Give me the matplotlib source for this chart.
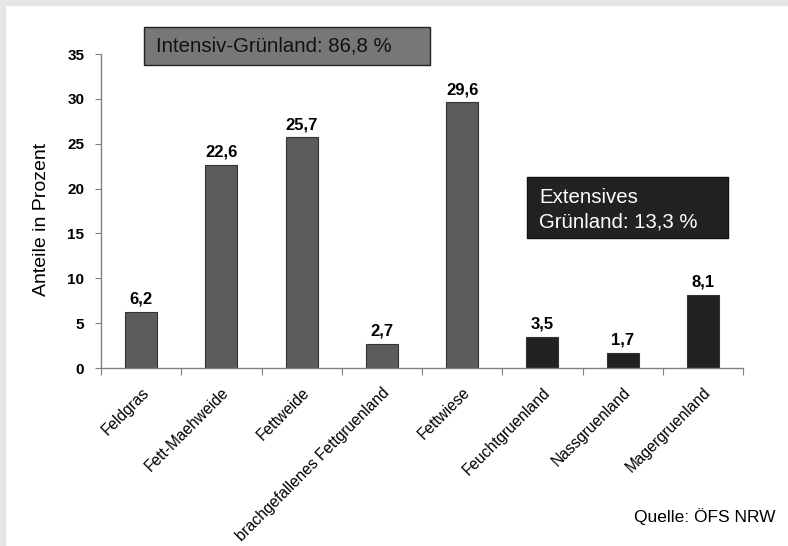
import matplotlib
matplotlib.use("Agg")
import matplotlib.pyplot as plt
from matplotlib.patches import Rectangle
from matplotlib import font_manager

plt.rcParams['font.family'] = ['Liberation Sans', 'DejaVu Sans']

names = {f.name for f in font_manager.fontManager.ttflist}
narrow = ['Liberation Sans Narrow', 'Liberation Sans'] if 'Liberation Sans Narrow' in names else ['Liberation Sans']

categories = ["Feldgras", "Fett-Maehweide", "Fettweide", "brachgefallenes Fettgruenland",
              "Fettwiese", "Feuchtgruenland", "Nassgruenland", "Magergruenland"]
values = [6.2, 22.6, 25.7, 2.7, 29.6, 3.5, 1.7, 8.1]
groups = ["int", "int", "int", "int", "int", "ext", "ext", "ext"]
y_ticks = [0, 5, 10, 15, 20, 25, 30, 35]

colors = {"int": "#5c5c5c", "ext": "#222222"}

fig = plt.figure(figsize=(7.88, 5.46), dpi=100)
fig.patch.set_facecolor("white")
# light grey frame along top and left edges
fig.patches.append(Rectangle((0, 1 - 5 / 546), 1, 5 / 546, transform=fig.transFigure,
                             color="#e6e6e6", zorder=0))
fig.patches.append(Rectangle((0, 0), 5 / 788, 1, transform=fig.transFigure,
                             color="#e6e6e6", zorder=0))

ax = fig.add_axes([101 / 788, 1 - 368 / 546, (743 - 101) / 788, (368 - 54) / 546])
x = list(range(len(categories)))
ax.bar(x, values, width=0.4, color=[colors[g] for g in groups],
       edgecolor="#333333", linewidth=0.8, zorder=2)
for xi, v in zip(x, values):
    ax.text(xi, v + 0.6, f"{v:.1f}".replace(".", ","), ha="center", va="bottom",
            fontsize=12, fontweight="bold", family=narrow)

ax.set_xlim(-0.5, len(categories) - 0.5)
ax.set_ylim(0, 35)
ax.set_yticks(y_ticks)
ax.set_yticklabels([str(t) for t in y_ticks], fontsize=11, fontweight="bold", family=narrow)
ax.set_xticks([i - 0.5 for i in range(len(categories) + 1)], minor=False)
ax.set_xticklabels([])
ax.set_xticks(x, minor=True)
ax.set_xticklabels(categories, minor=True, rotation=45, ha="right",
                   rotation_mode="anchor", fontsize=11.2)
ax.tick_params(axis="x", which="minor", length=0, pad=12)
ax.tick_params(axis="x", which="major", direction="out", length=5, color="#808080")
ax.tick_params(axis="y", direction="out", length=4, color="#808080", pad=8)
for s in ("top", "right"):
    ax.spines[s].set_visible(False)
for s in ("left", "bottom"):
    ax.spines[s].set_color("#808080")
    ax.spines[s].set_linewidth(1.0)

fig.text(42 / 788, 1 - 219 / 546, "Anteile in Prozent", rotation=90,
         ha="center", va="center", fontsize=14)

# group summary boxes
fig.patches.append(Rectangle((144 / 788, 1 - 65 / 546), (430 - 144) / 788, 38 / 546,
                             transform=fig.transFigure, facecolor="#777777",
                             edgecolor="#222222", linewidth=1.0, zorder=3))
fig.text(156 / 788, 1 - 46 / 546, "Intensiv-Grünland: 86,8 %", ha="left",
         va="center", fontsize=14.7, color="#111111", zorder=4)
fig.patches.append(Rectangle((527 / 788, 1 - 238 / 546), (728 - 527) / 788, 61 / 546,
                             transform=fig.transFigure, facecolor="#222222",
                             edgecolor="#111111", linewidth=1.0, zorder=3))
fig.text(539 / 788, 1 - 210 / 546, "Extensives\nGrünland: 13,3 %", ha="left",
         va="center", fontsize=14.7, color="white", linespacing=1.35, zorder=4)

fig.text(775 / 788, 1 - 517 / 546, "Quelle: ÖFS NRW", ha="right", va="center",
         fontsize=12.5)

fig.savefig("out.png", dpi=100)
